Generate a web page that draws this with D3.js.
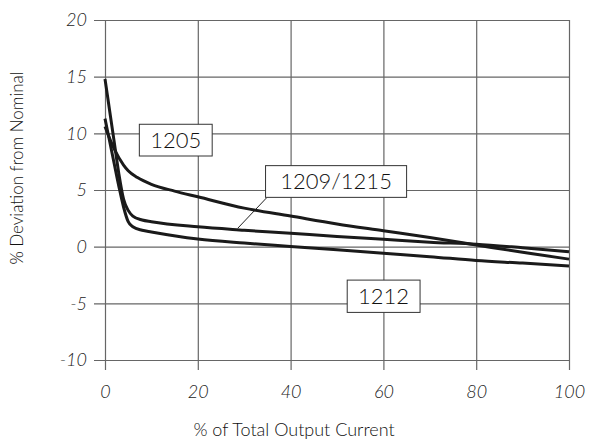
<!DOCTYPE html>
<html>
<head>
<meta charset="utf-8">
<script src="https://cdn.jsdelivr.net/npm/d3@7"></script>
<style>
  body { margin: 0; background: #fff; }
  .tick text { font-family: Lato, "Open Sans", sans-serif; font-style: italic; font-weight: 300; fill: #222; }
  .lbl { font-family: Lato, "Noto Sans", sans-serif; font-weight: 300; fill: #111; }
</style>
</head>
<body>
<div id="chart"></div>
<script>
var width = 589, height = 441;

// % of total output current
var x1205 = [0, 2, 4, 5, 7, 10, 15, 20, 30, 40, 50, 60, 70, 80, 90, 100];
var y1205 = [10.6, 8.6, 7.2, 6.7, 6.1, 5.5, 4.9, 4.4, 3.4, 2.7, 2.0, 1.4, 0.8, 0.15, -0.5, -1.1];

var x1209 = [0, 1, 2, 3, 4, 5, 6, 8, 10, 20, 30, 40, 50, 60, 70, 80, 90, 100];
var y1209 = [14.8, 12.0, 9.2, 6.4, 4.2, 3.2, 2.7, 2.35, 2.2, 1.75, 1.45, 1.18, 0.9, 0.65, 0.4, 0.22, -0.1, -0.45];

var x1212 = [0, 1, 2, 3, 4, 5, 6, 8, 10, 20, 30, 40, 50, 60, 70, 80, 90, 100];
var y1212 = [11.3, 9.3, 7.3, 5.3, 3.5, 2.2, 1.75, 1.45, 1.3, 0.68, 0.32, 0.02, -0.28, -0.59, -0.88, -1.22, -1.45, -1.7];

var xTicks = [0, 20, 40, 60, 80, 100];
var yTicks = [-10, -5, 0, 5, 10, 15, 20];

var labels = ["1205", "1209/1215", "1212"];

var x = d3.scaleLinear().domain([0, 100]).range([105, 569]);
var y = d3.scaleLinear().domain([-10, 20]).range([360, 20]);

var svg = d3.select("#chart").append("svg")
    .attr("width", width)
    .attr("height", height);

// y grid + labels
var yAxis = svg.append("g")
    .attr("transform", "translate(94,0)")
    .call(d3.axisLeft(y).tickValues(yTicks).tickFormat(function(d) { return String(d); })
        .tickSizeInner(-(569 - 94)).tickSizeOuter(0).tickPadding(7));
yAxis.select(".domain").remove();
yAxis.selectAll("line").attr("stroke", "#666").attr("stroke-width", 1.2);
yAxis.selectAll("text").style("font-size", "18px");

// x grid + labels
var xAxis = svg.append("g")
    .attr("transform", "translate(0,370)")
    .call(d3.axisBottom(x).tickValues(xTicks).tickFormat(function(d) { return String(d); })
        .tickSizeInner(-(370 - 20)).tickSizeOuter(0).tickPadding(15));
xAxis.select(".domain").remove();
xAxis.selectAll("line").attr("stroke", "#666").attr("stroke-width", 1.2);
xAxis.selectAll("text").style("font-size", "18px");

// curves
var line = d3.line()
    .x(function(d) { return x(d[0]); })
    .y(function(d) { return y(d[1]); })
    .curve(d3.curveMonotoneX);

var series = [d3.zip(x1205, y1205), d3.zip(x1209, y1209), d3.zip(x1212, y1212)];

svg.selectAll("path.curve")
    .data(series).enter()
    .append("path")
    .attr("class", "curve")
    .attr("d", line)
    .attr("fill", "none")
    .attr("stroke", "#1a1a1a")
    .attr("stroke-width", 3);

// leader line for 1209/1215
svg.append("line")
    .attr("x1", x(34.8)).attr("y1", y(4.3))
    .attr("x2", x(28.6)).attr("y2", y(1.62))
    .attr("stroke", "#222").attr("stroke-width", 1);

// label boxes (anchored in data coords)
var boxes = [
  { text: labels[0], x0: 7.4, x1: 23.1, y0: 10.8, y1: 8.0 },
  { text: labels[1], x0: 34.6, x1: 65.0, y0: 7.15, y1: 4.35 },
  { text: labels[2], x0: 52.2, x1: 67.9, y0: -2.95, y1: -5.8 }
];

var g = svg.selectAll("g.box").data(boxes).enter().append("g").attr("class", "box");
g.append("rect")
    .attr("x", function(d) { return x(d.x0); })
    .attr("y", function(d) { return y(d.y0); })
    .attr("width", function(d) { return x(d.x1) - x(d.x0); })
    .attr("height", function(d) { return y(d.y1) - y(d.y0); })
    .attr("fill", "#fff")
    .attr("stroke", "#333")
    .attr("stroke-width", 1);
g.append("text")
    .attr("class", "lbl")
    .attr("x", function(d) { return (x(d.x0) + x(d.x1)) / 2; })
    .attr("y", function(d) { return (y(d.y0) + y(d.y1)) / 2; })
    .attr("text-anchor", "middle")
    .attr("dy", "0.36em")
    .style("font-size", "22px")
    .text(function(d) { return d.text; });

// axis titles
svg.append("text")
    .attr("class", "lbl")
    .attr("x", 294).attr("y", 436)
    .attr("text-anchor", "middle")
    .style("font-size", "18px")
    .text("% of Total Output Current");

svg.append("text")
    .attr("class", "lbl")
    .attr("transform", "translate(23,168) rotate(-90)")
    .attr("text-anchor", "middle")
    .style("font-size", "17px")
    .text("% Deviation from Nominal");
</script>
</body>
</html>
